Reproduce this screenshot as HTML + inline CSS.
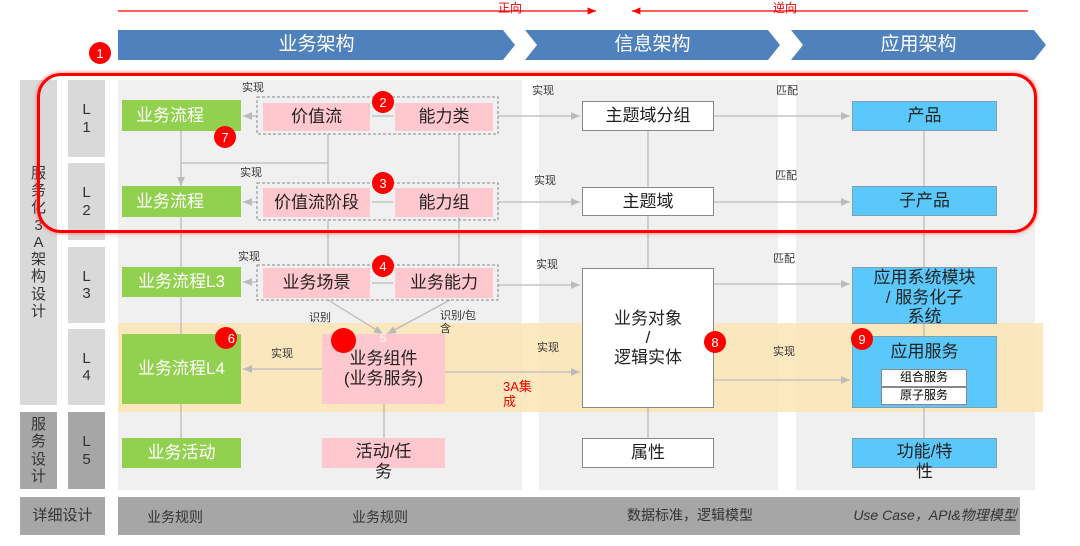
<!DOCTYPE html>
<html><head><meta charset="utf-8"><style>
*{margin:0;padding:0;box-sizing:border-box}
body{width:1080px;height:546px;background:#fff;position:relative;overflow:hidden;font-family:"Liberation Sans","Noto Sans CJK SC",sans-serif}
.a{position:absolute;display:flex;align-items:center;justify-content:center;text-align:center;line-height:1.15}
.g{background:#92d050;color:#fff;font-size:17px}
.p{background:#ffc7ce;color:#222;font-size:17px}
.w{background:#fff;border:1px solid #888;color:#222;font-size:17px}
.b{background:#5bc8fb;border:1px solid #7f9fb5;color:#222;font-size:17px}
.lb{font-size:11px;color:#333}
.c{position:absolute;width:22px;height:22px;border-radius:50%;background:#f00;color:#fff;font-size:13px;display:flex;align-items:center;justify-content:center}
.lv{background:#d9d9d9;color:#333;font-size:15px}
.dk{background:#a6a6a6;color:#333}
</style></head><body>
<div style="position:absolute;left:118px;top:80px;width:404px;height:410px;background:#f0f0f0"></div>
<div style="position:absolute;left:539px;top:80px;width:239px;height:410px;background:#f0f0f0"></div>
<div style="position:absolute;left:796px;top:80px;width:239px;height:410px;background:#f0f0f0"></div>
<div style="position:absolute;left:118px;top:323px;width:925px;height:89px;background:#fbe5b4;opacity:.85"></div>
<div class="a lv" style="left:20px;top:80px;width:37px;height:325px;flex-direction:column">服<br>务<br>化<br>3<br>A<br>架<br>构<br>设<br>计</div>
<div class="a lv dk" style="left:20px;top:412px;width:37px;height:77px">服<br>务<br>设<br>计</div>
<div class="a lv" style="left:68px;top:80px;width:37px;height:77px">L<br>1</div>
<div class="a lv" style="left:68px;top:163px;width:37px;height:77px">L<br>2</div>
<div class="a lv" style="left:68px;top:247px;width:37px;height:76px">L<br>3</div>
<div class="a lv" style="left:68px;top:329px;width:37px;height:76px">L<br>4</div>
<div class="a lv dk" style="left:68px;top:412px;width:37px;height:77px">L<br>5</div>
<div class="a dk" style="left:20px;top:497px;width:85px;height:38px;font-size:15px">详细设计</div>
<div style="position:absolute;left:118px;top:497px;width:902px;height:38px;background:#a6a6a6"></div>
<div class="a" style="left:130px;top:505px;width:90px;height:24px;font-size:14px;color:#333">业务规则</div>
<div class="a" style="left:335px;top:505px;width:90px;height:24px;font-size:14px;color:#333">业务规则</div>
<div class="a" style="left:610px;top:503px;width:160px;height:24px;font-size:14px;color:#333">数据标准，逻辑模型</div>
<div class="a" style="left:835px;top:503px;width:200px;height:24px;font-size:14px;color:#333;font-style:italic">Use Case，API&amp;物理模型</div>
<svg style="position:absolute;left:0;top:0" width="1080" height="546">
<defs><marker id="m" markerWidth="8" markerHeight="8" refX="7" refY="4" orient="auto"><path d="M0,1 L7,4 L0,7z" fill="#bbb"/></marker>
<marker id="r" markerWidth="8" markerHeight="8" refX="7" refY="4" orient="auto"><path d="M0,1 L7,4 L0,7z" fill="#f00"/></marker></defs>
<line x1="118" y1="11" x2="596" y2="11" stroke="#f00" stroke-width="1.2" marker-end="url(#r)"/>
<line x1="1028" y1="11" x2="632" y2="11" stroke="#f00" stroke-width="1.2" marker-end="url(#r)"/>
<polygon points="118,30 503,30 515,45 503,60 118,60" fill="#4f81bd"/>
<polygon points="525,30 768,30 780,45 768,60 525,60 537,45" fill="#4f81bd"/>
<polygon points="791,30 1034,30 1046,45 1034,60 791,60 803,45" fill="#4f81bd"/>
<g stroke="#bbb" stroke-width="1.3" fill="none">
<line x1="181" y1="131" x2="181" y2="438"/>
<line x1="181" y1="163" x2="328" y2="163"/>
<line x1="328" y1="134" x2="328" y2="183"/>
<line x1="328" y1="220" x2="328" y2="265"/>
<line x1="459" y1="134" x2="459" y2="265"/>
<line x1="384" y1="404" x2="384" y2="438"/>
<line x1="648" y1="130" x2="648" y2="268"/>
<line x1="648" y1="408" x2="648" y2="438"/>
<line x1="924" y1="130" x2="924" y2="267"/>
<line x1="924" y1="324" x2="924" y2="336"/>
<line x1="924" y1="408" x2="924" y2="438"/>
<line x1="257" y1="116" x2="243" y2="116" marker-end="url(#m)"/>
<line x1="257" y1="202" x2="243" y2="202" marker-end="url(#m)"/>
<line x1="257" y1="282" x2="243" y2="282" marker-end="url(#m)"/>
<line x1="322" y1="369" x2="243" y2="369" marker-end="url(#m)"/>
<line x1="181" y1="170" x2="181" y2="186" marker-end="url(#m)"/>
<line x1="372" y1="116" x2="393" y2="116"/><line x1="372" y1="202" x2="393" y2="202"/><line x1="372" y1="283" x2="393" y2="283"/>
<line x1="328" y1="300" x2="383" y2="334" marker-end="url(#m)"/>
<line x1="450" y1="300" x2="387" y2="334" marker-end="url(#m)"/>
<line x1="498" y1="116" x2="580" y2="116" marker-end="url(#m)"/>
<line x1="498" y1="202" x2="580" y2="202" marker-end="url(#m)"/>
<line x1="498" y1="285" x2="580" y2="285" marker-end="url(#m)"/>
<line x1="445" y1="372" x2="580" y2="372" marker-end="url(#m)"/>
<line x1="714" y1="116" x2="850" y2="116" marker-end="url(#m)"/>
<line x1="714" y1="202" x2="850" y2="202" marker-end="url(#m)"/>
<line x1="714" y1="284" x2="850" y2="284" marker-end="url(#m)"/>
<line x1="714" y1="380" x2="850" y2="380" marker-end="url(#m)"/>
</g>
<g stroke="#888" stroke-dasharray="3,2" fill="none">
<rect x="257" y="97" width="241" height="37"/><rect x="257" y="183" width="241" height="37"/><rect x="257" y="265" width="241" height="35"/>
</g>
</svg>
<div class="a" style="left:118px;top:30px;width:397px;height:30px;color:#fff;font-size:19px">业务架构</div>
<div class="a" style="left:537px;top:30px;width:231px;height:30px;color:#fff;font-size:19px">信息架构</div>
<div class="a" style="left:803px;top:30px;width:231px;height:30px;color:#fff;font-size:19px">应用架构</div>
<div class="a" style="left:495px;top:0;width:30px;height:18px;color:#e00;font-size:12px">正向</div>
<div class="a" style="left:770px;top:0;width:30px;height:18px;color:#e00;font-size:12px">逆向</div>
<div class="a g" style="left:122px;top:100px;width:119px;height:31px;justify-content:flex-start;padding-left:14px">业务流程</div>
<div class="a g" style="left:122px;top:186px;width:119px;height:31px;justify-content:flex-start;padding-left:14px">业务流程</div>
<div class="a g" style="left:122px;top:267px;width:119px;height:30px">业务流程L3</div>
<div class="a g" style="left:122px;top:334px;width:119px;height:70px">业务流程L4</div>
<div class="a g" style="left:122px;top:438px;width:119px;height:30px">业务活动</div>
<div class="a p" style="left:263px;top:103px;width:107px;height:28px">价值流</div>
<div class="a p" style="left:395px;top:103px;width:98px;height:28px">能力类</div>
<div class="a p" style="left:263px;top:188px;width:107px;height:29px">价值流阶段</div>
<div class="a p" style="left:395px;top:188px;width:98px;height:29px">能力组</div>
<div class="a p" style="left:263px;top:268px;width:107px;height:30px">业务场景</div>
<div class="a p" style="left:395px;top:268px;width:98px;height:30px">业务能力</div>
<div class="a p" style="left:322px;top:334px;width:123px;height:70px">业务组件<br>(业务服务)</div>
<div class="a p" style="left:322px;top:438px;width:123px;height:30px;align-items:flex-start;padding-top:4px">活动/任<br>务</div>
<div class="a w" style="left:582px;top:101px;width:132px;height:30px">主题域分组</div>
<div class="a w" style="left:582px;top:187px;width:132px;height:29px">主题域</div>
<div class="a w" style="left:582px;top:268px;width:132px;height:140px">业务对象<br>/<br>逻辑实体</div>
<div class="a w" style="left:582px;top:438px;width:132px;height:30px">属性</div>
<div class="a b" style="left:852px;top:101px;width:145px;height:30px">产品</div>
<div class="a b" style="left:852px;top:186px;width:145px;height:30px">子产品</div>
<div class="a b" style="left:852px;top:267px;width:145px;height:57px;align-items:flex-start">应用系统模块<br>/ 服务化子<br>系统</div>
<div class="a b" style="left:852px;top:336px;width:145px;height:72px;align-items:flex-start;padding-top:5px">应用服务</div>
<div class="a" style="left:881px;top:369px;width:86px;height:18px;background:#fff;border:1px solid #888;font-size:12px">组合服务</div>
<div class="a" style="left:881px;top:387px;width:86px;height:18px;background:#fff;border:1px solid #888;font-size:12px">原子服务</div>
<div class="a b" style="left:852px;top:438px;width:145px;height:30px;align-items:flex-start;padding-top:3px">功能/特<br>性</div>
<div class="a lb" style="left:240px;top:81px;width:26px;height:14px">实现</div>
<div class="a lb" style="left:238px;top:166px;width:26px;height:14px">实现</div>
<div class="a lb" style="left:236px;top:250px;width:26px;height:14px">实现</div>
<div class="a lb" style="left:269px;top:347px;width:26px;height:14px">实现</div>
<div class="a lb" style="left:530px;top:84px;width:26px;height:14px">实现</div>
<div class="a lb" style="left:532px;top:174px;width:26px;height:14px">实现</div>
<div class="a lb" style="left:534px;top:258px;width:26px;height:14px">实现</div>
<div class="a lb" style="left:535px;top:341px;width:26px;height:14px">实现</div>
<div class="a lb" style="left:774px;top:84px;width:26px;height:14px">匹配</div>
<div class="a lb" style="left:773px;top:169px;width:26px;height:14px">匹配</div>
<div class="a lb" style="left:771px;top:252px;width:26px;height:14px">匹配</div>
<div class="a lb" style="left:771px;top:345px;width:26px;height:14px">实现</div>
<div class="a lb" style="left:307px;top:311px;width:26px;height:14px">识别</div>
<div class="a lb" style="left:440px;top:309px;width:50px;height:28px;justify-content:flex-start;text-align:left">识别/包<br>含</div>
<div class="a" style="left:503px;top:375px;width:45px;height:40px;color:#e00;font-size:13px;text-align:left;justify-content:flex-start">3A集<br>成</div>
<div style="position:absolute;left:37px;top:73px;width:1000px;height:160px;border:3px solid #f00;border-radius:24px;box-shadow:0 0 4px #f66"></div>
<div class="c" style="left:89px;top:42px">1</div>
<div class="c" style="left:372px;top:91px">2</div>
<div class="c" style="left:372px;top:172px">3</div>
<div class="c" style="left:372px;top:255px">4</div>
<div class="c" style="left:331px;top:328px;width:25px;height:25px"></div>
<div class="a" style="left:376px;top:332px;width:14px;height:14px;color:#fff;font-size:12px">5</div>
<div class="c" style="left:215px;top:327px;justify-content:flex-end;padding-right:2px">6</div>
<div class="c" style="left:214px;top:126px">7</div>
<div class="c" style="left:704px;top:331px">8</div>
<div class="c" style="left:851px;top:328px">9</div>
</body></html>
